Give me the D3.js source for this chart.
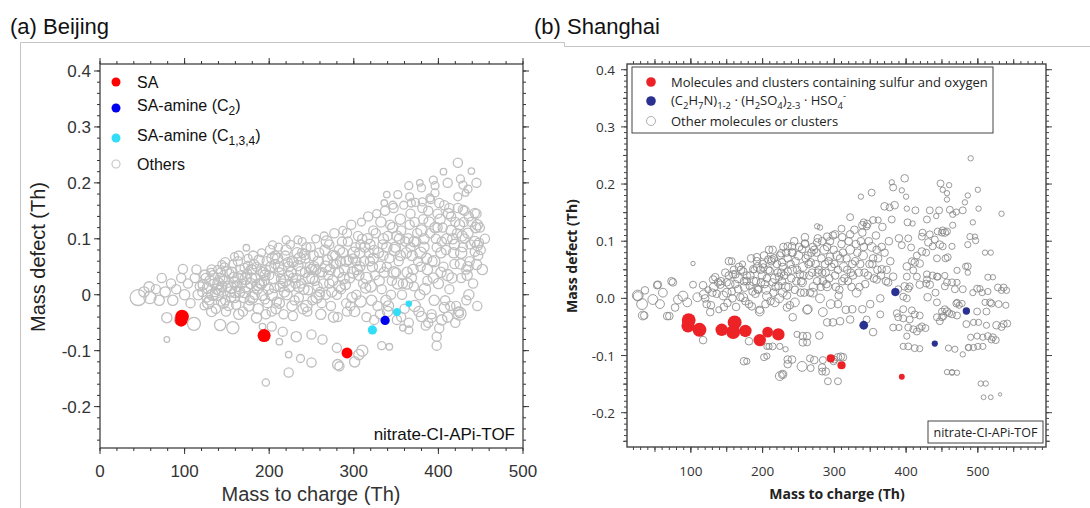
<!DOCTYPE html>
<html>
<head>
<meta charset="utf-8">
<script src="https://cdn.jsdelivr.net/npm/d3@7"></script>
<style>
  body { margin: 0; background: #fff; }
</style>
</head>
<body>
<div id="chart"></div>
<script>
// ---- Beijing (a): [m/z, mass defect, relative intensity]
var beijingSA = [[97,-0.039,11],[96,-0.046,9],[194,-0.073,10],[292,-0.104,7]];
var beijingAmineC2 = [[337,-0.046,5]];
var beijingAmineC134 = [[322,-0.063,5],[351,-0.031,4],[365,-0.016,2.5]];
var beijingOthers = [
  [45,-0.005,12],[52,0.005,5],[59,-0.005,7],[58,0.014,5],[66,0.01,4],[70,-0.01,5],[73,0.03,4],[77,0.005,5],[79,-0.041,5],[79,-0.08,1.5],
  [84,0.02,4],[86,-0.01,5],[90,0.01,4],[94,-0.045,5],[96,0.03,4],[98,0.046,4],[100,0.0,5],[104,0.02,4],[107,-0.015,4],[111,-0.052,8],
  [112,0.03,4],[114,0.045,4],[116,0.0,5],[118,0.015,4],[142,-0.054,6],[157,-0.059,7],[185,-0.041,5],[173,0.084,2],[159,0.068,3],[144,0.054,3],
  [204,0.089,3],[220,0.098,3],[234,0.098,3],[192,-0.057,2],[203,-0.057,4],[216,-0.066,4],[212,-0.084,2],[232,-0.075,5],[250,-0.071,4],
  [223,-0.107,2],[237,-0.114,3],[250,-0.121,4],[223,-0.139,4],[196,-0.157,2.5],[281,-0.125,5],[283,-0.128,4],[301,-0.12,5],[310,-0.1,6],
  [306,-0.107,5],[280,-0.095,4],[263,-0.08,4],[333,-0.091,3],[342,-0.093,2],[358,-0.059,2],[365,-0.063,3],[398,-0.091,4],[398,-0.075,4],
  [425,-0.034,8],[425,-0.034,3],[407,-0.023,5],[392,-0.041,4],[380,-0.039,5],[446,0.088,5],[445,0.054,5],[433,0.045,4],[443,0.077,4],
  [423,0.236,4],[406,0.22,2],[439,0.221,2],[394,0.205,3],[411,0.2,4],[426,0.207,3],[378,0.2,2],[365,0.195,3],[445,0.2,4],[429,0.196,3],
  [396,0.195,3],[435,0.189,3],[380,0.191,3],[352,0.179,3],[339,0.179,2],[366,0.175,3],[396,0.182,3],[423,0.175,3],[432,0.182,2],[390,0.173,3],
  [381,0.166,3],[336,0.164,2],[346,0.16,3],[368,0.164,3],[401,0.164,4],[413,0.155,4],[429,0.152,4],[443,0.146,4],[446,0.125,5],[448,0.093,4],
  [121,0.005,4],[123,-0.02,3],[125,0.03,4],[127,0.012,5],[129,-0.01,4],[131,0.04,3],[133,0.0,6],[135,0.02,4],[137,-0.025,4],[139,0.045,3],
  [141,0.008,5],[143,-0.012,4],[145,0.028,4],[147,0.05,3],[149,-0.03,4],[151,0.015,5],[153,0.038,4],[155,-0.005,4],[157,0.055,3],[159,0.022,5],
  [161,-0.018,4],[163,0.06,4],[165,0.005,5],[167,0.035,4],[169,-0.03,4],[171,0.048,4],[173,0.015,6],[175,0.065,3],[177,-0.01,4],[179,0.03,5],
  [181,0.07,4],[183,0.0,4],[185,0.05,4],[187,-0.025,5],[189,0.02,4],[191,0.075,3],[193,0.04,5],[195,-0.008,4],[197,0.06,4],[199,0.01,5],
  [201,0.08,4],[203,-0.03,4],[205,0.03,6],[207,0.055,4],[209,-0.012,4],[211,0.085,3],[213,0.015,5],[215,0.045,4],[217,-0.035,4],[219,0.07,4],
  [221,0.0,5],[223,0.035,4],[225,0.09,3],[227,-0.02,5],[229,0.058,4],[231,0.02,4],[233,0.075,5],[235,-0.005,4],[237,0.042,4],[239,0.095,3],
  [241,0.01,5],[243,0.065,4],[245,-0.03,4],[247,0.03,6],[249,0.085,4],[251,-0.01,4],[253,0.05,5],[255,0.1,3],[257,0.015,4],[259,0.075,4],
  [261,-0.035,5],[263,0.04,4],[265,0.105,3],[267,0.0,4],[269,0.062,5],[271,0.09,4],[273,-0.02,4],[275,0.025,5],[277,0.11,4],[279,0.055,4],
  [281,-0.04,4],[283,0.08,5],[285,0.01,4],[287,0.115,3],[289,0.045,5],[291,-0.015,4],[293,0.095,4],[295,0.03,5],[297,0.125,4],[299,0.065,4],
  [301,-0.03,5],[303,0.0,4],[305,0.105,4],[307,0.05,5],[309,0.13,3],[311,0.02,4],[313,0.085,5],[315,-0.04,4],[317,0.14,4],[319,0.06,4],
  [321,-0.01,5],[323,0.115,4],[325,0.035,4],[327,0.145,3],[329,0.075,5],[331,-0.035,4],[333,0.01,4],[335,0.1,5],[337,0.15,4],[339,0.05,4],
  [341,-0.02,5],[343,0.125,4],[345,0.025,4],[347,0.155,4],[349,0.085,5],[351,-0.045,4],[353,0.06,4],[355,0.135,5],[357,0.0,4],[359,0.16,3],
  [361,0.095,4],[363,0.04,5],[365,-0.05,4],[367,0.145,4],[369,0.07,5],[371,0.015,4],[373,0.165,3],[375,0.11,4],[377,-0.03,5],[379,0.05,4],
  [381,0.155,4],[383,0.085,5],[385,-0.055,4],[387,0.025,4],[389,0.13,5],[391,0.17,3],[393,0.06,4],[395,-0.01,5],[397,0.1,4],[399,0.145,4],
  [401,-0.06,4],[403,0.04,5],[405,0.12,4],[407,0.16,4],[409,0.08,4],[411,-0.04,5],[413,0.01,4],[415,0.14,4],[417,0.1,5],[419,0.055,4],
  [421,-0.02,4],[423,0.155,4],[425,0.125,5],[427,0.03,4],[429,0.085,4],[431,0.15,4],[433,-0.01,4],[435,0.11,5],[437,0.06,4],[439,0.13,4],
  [441,0.02,4],[443,0.095,5],[445,0.145,4],[447,0.07,4],[449,0.12,4],[452,0.045,5],[455,0.1,4],
  [122,0.018,5],[126,-0.005,4],[130,0.025,5],[134,0.035,4],[138,0.01,5],[142,0.03,4],[146,-0.015,5],[150,0.042,4],[154,0.005,5],[158,0.032,4],
  [162,0.015,5],[166,0.045,4],[170,-0.005,5],[174,0.038,4],[178,0.02,5],[182,0.055,4],[186,0.01,5],[190,0.042,4],[194,0.025,5],[198,-0.015,4],
  [202,0.05,5],[206,0.012,4],[210,0.065,5],[214,0.028,4],[218,0.005,5],[222,0.058,4],[226,0.04,5],[230,-0.01,4],[234,0.052,5],[238,0.02,4],
  [242,0.072,5],[246,0.008,4],[250,0.045,5],[254,0.025,4],[258,0.06,5],[262,-0.015,4],[266,0.08,5],[270,0.035,4],[274,0.005,5],[278,0.07,4],
  [282,0.04,5],[286,0.095,4],[290,0.018,5],[294,0.062,4],[298,-0.005,5],[302,0.085,4],[306,0.035,5],[310,0.1,4],[314,0.012,5],[318,0.075,4],
  [322,0.05,5],[326,0.11,4],[330,0.025,5],[334,0.09,4],[338,-0.01,5],[342,0.065,4],[346,0.12,5],[350,0.04,4],[354,0.1,5],[358,0.02,4],
  [362,0.075,5],[366,0.125,4],[370,0.045,5],[374,0.095,4],[378,0.0,5],[382,0.135,4],[386,0.065,5],[390,0.11,4],[394,0.03,5],[398,0.085,4],
  [402,0.135,5],[406,0.05,4],[410,0.1,5],[414,-0.02,4],[418,0.075,5],[422,0.11,4],[426,0.055,5],[430,0.13,4],[434,0.035,5],[438,0.09,4],
  [128,-0.015,6],[136,0.005,4],[144,0.015,5],[152,-0.02,4],[160,0.005,6],[168,0.02,4],[176,-0.02,5],[184,0.03,4],[192,0.0,6],[200,0.035,4],
  [208,-0.025,5],[216,0.02,4],[224,0.015,6],[232,0.03,4],[240,-0.025,5],[248,0.05,4],[256,-0.005,6],[264,0.02,4],[272,0.045,5],[280,0.0,4],
  [288,0.03,6],[296,-0.02,4],[304,0.045,5],[312,0.06,4],[320,0.015,6],[328,-0.02,4],[336,0.04,5],[344,0.0,4],[352,0.02,6],[360,-0.025,4],
  [368,0.03,5],[376,0.06,4],[384,0.01,6],[392,-0.035,4],[400,0.02,5],[408,-0.01,4],[416,0.03,5],[424,-0.03,4],
  [124,0.035,5],[132,0.045,4],[140,0.02,6],[148,0.058,4],[156,0.04,5],[164,0.07,4],[172,0.028,6],[180,0.045,4],[188,0.062,5],[196,0.045,4],
  [204,0.065,6],[212,0.04,4],[220,0.08,5],[228,0.03,4],[236,0.065,6],[244,0.085,4],[252,0.07,5],[260,0.04,4],[268,0.095,6],[276,0.055,4],
  [284,0.06,5],[292,0.11,4],[300,0.075,6],[308,0.09,4],[316,0.1,5],[324,0.08,4],[332,0.13,5],[340,0.105,4],[348,0.08,6],[356,0.115,4],
  [364,0.1,5],[372,0.13,4],[380,0.115,6],[388,0.15,4],[396,0.12,5],[404,0.095,4],[412,0.145,5],[420,0.13,4],[428,0.105,5],[436,0.14,4],
  [444,0.12,5],[450,0.08,4],
  [132,-0.03,5],[148,-0.01,4],[164,-0.035,5],[180,-0.005,6],[196,-0.035,4],[212,-0.015,5],[228,-0.038,4],[244,-0.02,6],[260,0.005,4],[276,-0.04,5],
  [292,-0.03,4],[308,-0.012,6],[324,-0.045,4],[340,-0.03,5],[356,-0.04,4],[372,-0.02,6],[388,-0.05,4],[404,-0.045,5],[420,-0.05,4],[436,0.0,5],
  [446,-0.02,4],
  [139,0.0,6],[147,0.025,5],[155,0.012,6],[163,0.03,5],[171,0.005,6],[179,0.045,5],[187,0.018,6],[195,0.035,5],[203,0.0,6],[211,0.05,5],
  [219,0.025,6],[227,0.06,5],[235,0.015,6],[243,0.04,5],[251,0.03,6],[259,0.0,5],[267,0.05,6],[275,0.07,5],[283,0.015,6],[291,0.06,5],
  [299,0.04,6],[307,0.075,5],[315,0.03,6],[323,0.065,5],[331,0.05,6],[339,0.085,5],[347,0.04,6],[355,0.07,5],[363,0.02,6],[371,0.095,5],
  [379,0.075,6],[387,0.045,5],[395,0.06,6],[403,0.075,5],[411,0.035,6],[419,0.09,5],[427,0.075,6],[435,0.05,5],
  [143,0.04,4],[159,-0.005,5],[175,0.052,4],[191,0.02,5],[207,0.07,4],[223,0.05,5],[239,0.075,4],[255,0.045,5],[271,0.02,4],[287,0.075,5],
  [303,0.06,4],[319,0.09,5],[335,0.07,4],[351,0.105,5],[367,0.085,4],[383,0.1,5],[399,0.12,4],[415,0.115,5],[431,0.1,4]
];

// ---- Shanghai (b)
var shanghaiSO = [[97,-0.038,10],[96,-0.048,9],[112,-0.055,10],[143,-0.055,8],[161,-0.042,10],[159,-0.059,10],
  [176,-0.057,8],[196,-0.073,8],[207,-0.059,6],[222,-0.063,8],[295,-0.105,3.5],[310,-0.117,3.5],[394,-0.137,1.8]];
var shanghaiAmine = [[385,0.011,3.5],[341,-0.047,4],[484,-0.022,2.8],[440,-0.079,2]];
var shanghaiOthers = [
  [490,0.245,1.5],[398,0.21,3],[380,0.203,1.5],[382,0.194,2.5],[394,0.189,1.5],[400,0.178,1.5],[352,0.185,2.5],[337,0.178,1.5],[448,0.201,2.5],
  [460,0.198,1.5],[457,0.184,1.5],[451,0.19,1.5],[486,0.18,1.5],[500,0.19,1.5],[482,0.168,1.5],[457,0.173,1.5],[533,0.148,1.5],[501,0.157,1.5],
  [370,0.161,3],[384,0.163,3],[377,0.159,2.5],[401,0.157,1.5],[413,0.154,2.5],[433,0.154,2.5],[446,0.154,2.5],[461,0.155,2.5],[470,0.151,2],
  [479,0.154,2.5],[465,0.147,2],[442,0.144,1.5],[429,0.138,2.5],[493,0.133,1.5],[380,0.138,2.5],[402,0.133,2.5],[409,0.131,1.5],[354,0.137,2.5],
  [341,0.133,2.5],[322,0.142,2.5],[339,0.128,3],[310,0.122,2.5],[276,0.126,1.5],[444,0.117,2.5],[423,0.115,2.5],[361,0.137,2],[345,0.126,2.5],
  [451,0.119,2.5],[465,0.128,2],[496,0.108,1.5],[497,0.101,2],[518,0.08,1.5],[483,0.056,2],[486,0.045,1.5],[521,0.037,1.5],[536,0.019,2.5],
  [540,0.014,2],[503,0.017,2],[506,0.01,2],[539,-0.012,2],[519,-0.009,2.5],[512,-0.023,2.5],[499,-0.023,2.5],[471,-0.007,2],[474,-0.012,2],
  [478,-0.009,2],[457,-0.023,3],[460,-0.026,2.5],[450,-0.033,2.5],[447,-0.04,2.5],[471,-0.03,2.5],[494,-0.042,2],[501,-0.042,2],[512,-0.047,2],
  [536,-0.045,2.5],[541,-0.044,2.5],[499,-0.066,2],[507,-0.068,2],[507,-0.084,2],[521,-0.068,2.5],[525,-0.073,2.5],[494,-0.086,2],[468,-0.089,2],
  [479,-0.098,1.5],[464,-0.13,1.5],[471,-0.13,1.5],[511,-0.149,1.5],[518,-0.173,1.2],[419,-0.088,2],[403,-0.084,2.5],[419,-0.052,2.5],
  [415,-0.058,2.5],[401,-0.066,2],[405,-0.037,2.5],[396,-0.035,2.5],[390,-0.051,2],[387,-0.026,2.5],[408,-0.021,2.5],[419,-0.03,2.5],
  [430,0.002,3],[443,-0.007,2.5],[454,0.021,2.5],[441,0.01,2.5],[443,0.038,2.5],[428,0.026,2.5],[429,0.042,2.5],[437,0.04,2.5],[454,0.04,2],
  [471,0.028,2],[486,0.056,2.5],[471,0.049,2],[455,0.07,2.5],[458,0.072,2.5],[443,0.07,2.5],[437,0.091,2.5],[451,0.091,2.5],[464,0.091,2],
  [428,0.08,2.5],[419,0.061,3],[415,0.075,2.5],[408,0.065,2.5],[410,0.049,2.5],[401,0.038,2.5],[415,0.038,2.5],[398,0.021,3],[405,0.021,2.5],
  [401,0.0,2.5],[396,0.003,2.5],[433,0.112,2.5],[440,0.103,2.5],[450,0.115,2.5],[457,0.117,2.5],[390,0.105,3],[403,0.105,2.5],[394,0.093,2.5],
  [407,0.089,2.5],[422,0.108,2.5],[510,0.08,1.5],[489,0.108,2],[486,0.094,2],[514,0.037,2],[499,0.017,2.5],[493,0.01,2],[514,0.012,2],
  [528,0.019,2.5],[533,0.014,2],[517,-0.007,2.5],[510,-0.007,2],[529,-0.01,2.5],[526,-0.047,3],[533,-0.05,2.5],[514,-0.066,2.5],[519,-0.072,2.5],
  [490,-0.068,2],[500,-0.084,2],[487,-0.086,2],[459,-0.087,2],[412,-0.087,2.5],[396,-0.084,2],[457,-0.129,1.5],[464,-0.129,1.5],[504,-0.149,1.5],
  [508,-0.173,1.2],[531,-0.168,0.6],
  [26,0.004,4],[36,0.014,3],[35,-0.03,3],[47,-0.002,5],[57,-0.01,4],[61,0.01,4],[54,0.024,3],[75,0.028,3],[70,-0.031,3],[78,-0.016,3],
  [82,-0.002,4],[89,0.004,5],[103,0.024,2.5],[103,0.061,1],[95,-0.007,4],[109,0.002,4],[118,0.007,4],[122,-0.01,3],[127,-0.024,3],[134,0.037,3],
  [141,0.024,3],[150,0.01,4],[157,0.065,2.5],[162,0.042,3],[166,0.016,3],[173,0.002,4],[178,0.03,3],[185,-0.014,3],[187,0.051,3],[193,0.016,3],
  [196,-0.023,4],[201,0.054,3],[206,0.004,4],[213,0.068,3],[214,0.028,3],[217,-0.007,4],[223,0.038,3],[227,0.063,3],[228,0.01,4],[235,0.047,3],
  [241,0.091,3],[241,0.08,3],[245,-0.007,4],[255,0.086,3],[255,0.028,4],[259,0.107,3],[263,-0.019,4],[267,0.063,3],[270,0.01,4],[277,0.045,3],
  [280,0.124,1.5],[283,0.1,3],[284,-0.024,4],[290,0.021,4],[294,0.073,3],[298,-0.042,3],[301,0.112,3],[305,-0.01,3],
  [117,-0.073,3],[178,-0.11,2],[181,-0.075,3],[206,-0.101,2],[214,-0.084,2.5],[232,-0.089,1.5],[228,-0.133,3.5],[228,-0.133,2],[241,-0.107,3],
  [255,-0.119,5],[272,-0.108,3],[262,-0.066,3],[248,-0.063,2],[262,-0.077,2.5],[284,-0.108,2.5],[288,-0.128,3],[291,-0.145,2.5],[305,-0.145,2.5],
  [174,-0.11,3],[202,-0.103,2.5],[209,-0.084,2],[224,-0.136,4],[235,-0.107,3],[235,-0.115,3],[266,-0.105,2.5],[267,-0.122,2.5],[283,-0.121,3],
  [283,-0.128,2.5],[305,-0.103,3],[312,-0.103,3],[299,-0.11,2.5],[300,-0.107,2.5],[309,-0.102,3],
  [26,0.005,6],[32,-0.01,6],[33,-0.03,4],[53,0.023,3],[67,-0.031,3],[73,0.03,3],[117,0.023,3],[131,0.033,3],[153,0.065,3],[159,0.042,3],
  [173,0.047,3],[192,0.065,3],[208,0.068,3],[226,0.079,3],[235,0.091,3],[259,0.096,3],[276,0.098,3],[290,0.108,3],[311,0.107,3],[322,0.112,3],
  [339,0.115,3],[234,-0.016,3],[242,-0.033,3],[256,-0.066,3],[279,-0.065,3],[256,-0.077,3],[224,-0.084,2],[206,-0.084,2],[290,-0.042,3],
  [308,-0.04,3],[322,-0.037,3],[325,-0.019,3],[339,-0.019,3],[350,-0.01,3],[364,-0.028,2.5],[354,-0.059,3],[345,-0.037,2.5],[375,0.028,3],
  [382,0.038,3],[359,0.033,3],[366,0.051,3],[401,0.056,3],[412,0.063,3],[422,0.082,3],[431,0.098,3],[447,0.094,3],[454,0.115,3],[396,-0.019,2.5],
  [389,-0.033,2.5],[412,-0.028,2.5],[382,-0.051,2.5],[403,-0.051,2.5],[410,-0.054,2.5],[422,-0.049,2.5],[427,-0.052,2.5],[443,-0.033,2.5],
  [450,-0.023,2.5],[454,-0.019,2.5],[452,-0.031,2.5],[464,-0.028,2.5],[470,-0.009,2.5],[419,0.024,3],[433,0.024,3],[429,0.033,2.5],[444,0.038,2.5],
  [457,0.028,2.5],[464,0.028,2.5],[468,0.016,2.5],[479,0.016,2.5],[389,0.016,2.5],[403,0.017,2.5],[484,-0.045,2.5],[487,-0.086,2],
  [120,0.0,3],[124,0.015,2],[128,-0.012,3],[132,0.02,4],[136,0.008,3],[139,-0.02,2],[142,0.03,3],[145,0.005,4],[148,0.045,3],[151,-0.008,3],
  [154,0.025,4],[157,0.012,3],[160,0.05,3],[163,-0.015,3],[166,0.035,4],[169,0.002,3],[172,0.06,2],[175,0.02,4],[178,0.04,3],[181,-0.01,3],
  [184,0.07,3],[187,0.03,4],[190,0.008,3],[193,0.055,4],[196,-0.02,3],[199,0.04,3],[202,0.075,3],[205,0.015,4],[208,0.05,3],[211,-0.005,3],
  [214,0.085,3],[217,0.035,4],[220,0.06,3],[223,0.0,4],[226,0.045,3],[229,0.09,3],[232,0.02,4],[235,0.07,3],[238,-0.012,3],[241,0.05,4],
  [244,0.1,3],[247,0.03,3],[250,0.075,4],[253,0.01,3],[256,0.055,4],[259,0.095,3],[262,-0.02,4],[265,0.04,3],[268,0.08,3],[271,0.02,4],
  [274,0.06,3],[277,0.105,3],[280,0.0,4],[283,0.045,3],[286,0.085,4],[289,0.025,3],[292,0.065,3],[295,-0.01,4],[298,0.11,3],[301,0.04,3],
  [304,0.075,4],[307,0.015,3],[310,0.095,3],[313,0.055,4],[316,-0.02,3],[319,0.03,3],[322,0.085,4],[325,0.06,3],[328,0.12,3],[331,0.01,4],
  [334,0.045,3],[337,0.1,3],[340,0.075,4],[343,0.025,3],[346,0.13,3],[349,0.06,3],[352,0.09,4],[355,0.035,3],[358,0.11,3],[361,0.07,3],
  [364,0.0,3],[367,0.125,3],[370,0.08,3],[373,0.05,3],[376,0.1,3],
  [182,0.022,3],[188,0.05,2],[194,0.015,3],[200,0.06,3],[206,0.035,3],[212,0.065,3],[218,0.02,3],[224,0.075,3],[230,0.04,3],[236,0.02,3],
  [242,0.08,3],[248,0.05,3],[254,0.03,3],[260,0.07,3],[266,0.01,3],[272,0.085,3],[278,0.05,3],[284,0.03,3],[290,0.09,3],[296,0.055,3],
  [302,0.02,3],[308,0.07,3],[314,0.035,3],[320,0.1,3],[326,0.04,3],[332,0.08,3],
  [130,0.01,3],[138,0.028,3],[146,-0.015,3],[153,0.04,3],[162,0.025,3],[170,0.05,3],[176,-0.005,3],[186,0.012,3],[192,0.072,3],[198,0.028,3],
  [204,-0.01,3],[210,0.048,3],[216,0.07,3],[222,0.022,3],[228,0.055,3],[234,0.005,3],[240,0.035,3],[246,0.065,3],[252,0.042,3],[258,0.01,3],
  [264,0.06,3],[270,0.09,3],[276,0.03,3],[282,0.07,3],[288,0.045,3],[294,0.1,3],[300,0.06,3],[306,0.005,3],[312,0.08,3],[318,0.05,3],
  [324,0.02,3],[330,0.095,3],[336,0.06,3],[342,0.045,3],[348,0.1,3],[354,0.07,3],[360,0.05,3],[366,0.09,3],[372,0.03,3],[378,0.065,3],
  [150,0.028,3],[158,0.0,3],[167,0.055,3],[174,0.03,3],[183,0.04,3],[191,0.03,3],[197,0.05,3],[203,0.025,3],[209,0.085,3],[215,0.01,3],
  [221,0.045,3],[227,0.03,3],[233,0.08,3],[239,0.06,3],[245,0.015,3],[251,0.09,3],[257,0.04,3],[263,0.075,3],[269,0.045,3],[275,0.08,3],
  [281,0.02,3],[287,0.06,3],[293,0.035,3],[299,0.085,3],[305,0.05,3],[311,0.03,3],[317,0.07,3],[323,0.045,3],[329,0.065,3],[335,0.02,3],
  [341,0.09,3],[347,0.04,3],[353,0.06,3],[359,0.085,3],[365,0.04,3]
];

// ticks
var beijingXTicks = [0, 100, 200, 300, 400, 500];
var beijingYTicks = [-0.2, -0.1, 0, 0.1, 0.2, 0.3, 0.4];
var shanghaiXTicks = [100, 200, 300, 400, 500];
var shanghaiYTicks = [-0.2, -0.1, 0, 0.1, 0.2, 0.3, 0.4];

var width = 1090, height = 508;
var svg = d3.select("#chart").append("svg")
    .attr("width", width)
    .attr("height", height)
    .style("font-family", "'Liberation Sans', Arial, sans-serif");

// light panel borders
svg.append("path")
    .attr("d", "M20.5,508V42.5H564.5V46.5H1090")
    .attr("fill", "none")
    .attr("stroke", "#c4c4c4")
    .attr("stroke-width", 1);

svg.append("text").attr("x", 10).attr("y", 34).attr("font-size", 22).attr("fill", "#111").text("(a) Beijing");
svg.append("text").attr("x", 534).attr("y", 34).attr("font-size", 22).attr("fill", "#111").text("(b) Shanghai");

// draws ticks on all four sides of a box
function boxTicks(g, x, y, xs, ys, color) {
  var x0 = x.range()[0], x1 = x.range()[1], y0 = y.range()[0], y1 = y.range()[1];
  xs.forEach(function(t) {
    g.append("g").selectAll("line").data(t.v).join("line")
      .attr("x1", d => x(d)).attr("x2", d => x(d))
      .attr("y1", y0).attr("y2", y0 + t.len)
      .attr("stroke", color);
    g.append("g").selectAll("line").data(t.v).join("line")
      .attr("x1", d => x(d)).attr("x2", d => x(d))
      .attr("y1", y1).attr("y2", y1 - t.len)
      .attr("stroke", color);
  });
  ys.forEach(function(t) {
    g.append("g").selectAll("line").data(t.v).join("line")
      .attr("y1", d => y(d)).attr("y2", d => y(d))
      .attr("x1", x0).attr("x2", x0 - t.len)
      .attr("stroke", color);
    g.append("g").selectAll("line").data(t.v).join("line")
      .attr("y1", d => y(d)).attr("y2", d => y(d))
      .attr("x1", x1).attr("x2", x1 + t.len)
      .attr("stroke", color);
  });
}

function subText(sel, parts, base, small) {
  var shift = 0;
  parts.forEach(function(p) {
    var target = p[1] === 1 ? 4 : (p[1] === -1 ? -6 : 0);
    sel.append("tspan")
      .attr("dy", target - shift)
      .attr("font-size", p[1] ? small : base)
      .text(p[0]);
    shift = target;
  });
}

// ================= Panel (a) =================
(function() {
  var x = d3.scaleLinear().domain([0, 500]).range([100, 523]);
  var y = d3.scaleLinear().domain([-0.274, 0.4125]).range([448, 64]);
  var r = d3.scaleSqrt().domain([0, 16]).range([0, 9.2]);
  var g = svg.append("g");

  g.append("g").selectAll("circle").data(beijingOthers).join("circle")
    .attr("cx", d => x(d[0])).attr("cy", d => y(d[1])).attr("r", d => r(d[2]))
    .attr("fill", "none").attr("stroke", "#bfbfbf").attr("stroke-width", 1.3);

  var groups = [[beijingSA, "#ff0000"], [beijingAmineC2, "#0000ee"], [beijingAmineC134, "#33ddf7"]];
  groups.forEach(function(s) {
    g.append("g").selectAll("circle").data(s[0]).join("circle")
      .attr("cx", d => x(d[0])).attr("cy", d => y(d[1])).attr("r", d => r(d[2]) * 0.9)
      .attr("fill", s[1]);
  });

  g.append("rect")
    .attr("x", 100).attr("y", 64).attr("width", 423).attr("height", 384)
    .attr("fill", "none").attr("stroke", "#333").attr("stroke-width", 1.2);

  boxTicks(g, x, y,
    [{v: d3.range(0, 501, 20), len: 3}, {v: beijingXTicks, len: 6}],
    [{v: d3.range(-26, 41, 2).map(v => v / 100), len: 3}, {v: beijingYTicks, len: 6}],
    "#333");

  g.append("g").selectAll("text").data(beijingXTicks).join("text")
    .attr("x", d => x(d)).attr("y", 477)
    .attr("text-anchor", "middle").attr("font-size", 17).attr("fill", "#333")
    .text(d => d);
  g.append("g").selectAll("text").data(beijingYTicks).join("text")
    .attr("x", 91).attr("y", d => y(d) + 6)
    .attr("text-anchor", "end").attr("font-size", 17).attr("fill", "#333")
    .text(d => Math.abs(d) < 1e-9 ? "0" : d.toFixed(1));

  g.append("text").attr("x", 311).attr("y", 501).attr("text-anchor", "middle")
    .attr("font-size", 20).attr("fill", "#333").text("Mass to charge (Th)");
  g.append("text").attr("transform", "translate(45,257) rotate(-90)").attr("text-anchor", "middle")
    .attr("font-size", 20).attr("fill", "#222").text("Mass defect (Th)");

  g.append("text").attr("x", 515).attr("y", 440).attr("text-anchor", "end")
    .attr("font-size", 17).attr("fill", "#111").text("nitrate-CI-APi-TOF");

  // legend
  var lg = g.append("g").attr("font-size", 16).attr("fill", "#111");
  lg.append("circle").attr("cx", 116).attr("cy", 82).attr("r", 4.5).attr("fill", "#ff0000");
  lg.append("text").attr("x", 137).attr("y", 88).text("SA");
  lg.append("circle").attr("cx", 116).attr("cy", 108).attr("r", 4.5).attr("fill", "#0000ee");
  subText(lg.append("text").attr("x", 137).attr("y", 111), [["SA-amine (C", 0], ["2", 1], [")", 0]], 16, 12);
  lg.append("circle").attr("cx", 116).attr("cy", 138).attr("r", 4.5).attr("fill", "#33ddf7");
  subText(lg.append("text").attr("x", 137).attr("y", 141), [["SA-amine (C", 0], ["1,3,4", 1], [")", 0]], 16, 12);
  lg.append("circle").attr("cx", 116).attr("cy", 164).attr("r", 4).attr("fill", "none").attr("stroke", "#c3c3c3").attr("stroke-width", 1.1);
  lg.append("text").attr("x", 137).attr("y", 170).text("Others");
})();

// ================= Panel (b) =================
(function() {
  var x = d3.scaleLinear().domain([11, 595]).range([627, 1046]);
  var y = d3.scaleLinear().domain([-0.26, 0.41]).range([447, 64]);
  var r = d3.scaleSqrt().domain([0, 16]).range([0, 8.8]);
  var g = svg.append("g").style("font-family", "'Open Sans', 'Noto Sans', sans-serif");

  g.append("g").selectAll("circle").data(shanghaiOthers).join("circle")
    .attr("cx", d => x(d[0])).attr("cy", d => y(d[1])).attr("r", d => r(d[2]))
    .attr("fill", "none").attr("stroke", "#888").attr("stroke-width", 0.85);

  g.append("g").selectAll("circle").data(shanghaiSO).join("circle")
    .attr("cx", d => x(d[0])).attr("cy", d => y(d[1])).attr("r", d => r(d[2]))
    .attr("fill", "#ec2227");
  g.append("g").selectAll("circle").data(shanghaiAmine).join("circle")
    .attr("cx", d => x(d[0])).attr("cy", d => y(d[1])).attr("r", d => r(d[2]))
    .attr("fill", "#2b3190");

  g.append("rect")
    .attr("x", 627).attr("y", 64).attr("width", 419).attr("height", 383)
    .attr("fill", "none").attr("stroke", "#444").attr("stroke-width", 1.4);

  boxTicks(g, x, y,
    [{v: d3.range(20, 591, 10), len: 3}, {v: d3.range(50, 551, 50), len: 5}, {v: shanghaiXTicks, len: 6}],
    [{v: d3.range(-25, 41, 1).map(v => v / 100), len: 3}, {v: [-0.25, -0.15, -0.05, 0.05, 0.15, 0.25, 0.35], len: 4}, {v: shanghaiYTicks, len: 6}],
    "#444");

  g.append("g").selectAll("text").data(shanghaiXTicks).join("text")
    .attr("x", d => x(d)).attr("y", 476)
    .attr("text-anchor", "middle").attr("font-size", 13.5).attr("fill", "#333")
    .text(d => d);
  g.append("g").selectAll("text").data(shanghaiYTicks).join("text")
    .attr("x", 615).attr("y", d => y(d) + 5)
    .attr("text-anchor", "end").attr("font-size", 13.5).attr("fill", "#333")
    .text(d => d.toFixed(1));

  g.append("text").attr("x", 837).attr("y", 499).attr("text-anchor", "middle")
    .attr("font-size", 14).attr("font-weight", "bold").attr("fill", "#222").text("Mass to charge (Th)");
  g.append("text").attr("transform", "translate(577,256) rotate(-90)").attr("text-anchor", "middle")
    .attr("font-size", 14).attr("font-weight", "bold").attr("fill", "#222").text("Mass defect (Th)");

  // instrument tag
  g.append("rect").attr("x", 928).attr("y", 421).attr("width", 115).attr("height", 22)
    .attr("fill", "#fff").attr("stroke", "#444").attr("stroke-width", 1);
  g.append("text").attr("x", 985.5).attr("y", 437).attr("text-anchor", "middle")
    .attr("font-size", 12.5).attr("fill", "#222").text("nitrate-CI-APi-TOF");

  // legend
  var lg = g.append("g").attr("font-size", 13).attr("fill", "#222");
  lg.append("rect").attr("x", 632).attr("y", 67).attr("width", 361).attr("height", 66)
    .attr("fill", "#fff").attr("stroke", "#444").attr("stroke-width", 1);
  lg.append("circle").attr("cx", 651).attr("cy", 82).attr("r", 4.8).attr("fill", "#ec2227");
  lg.append("text").attr("x", 671).attr("y", 87).text("Molecules and clusters containing sulfur and oxygen");
  lg.append("circle").attr("cx", 651).attr("cy", 101).attr("r", 4.8).attr("fill", "#2b3190");
  subText(lg.append("text").attr("x", 671).attr("y", 105),
    [["(C", 0], ["2", 1], ["H", 0], ["7", 1], ["N)", 0], ["1-2", 1], [" \u00b7 (H", 0], ["2", 1], ["SO", 0], ["4", 1],
     [")", 0], ["2-3", 1], [" \u00b7 HSO", 0], ["4", 1], ["-", -1]], 13, 9.5);
  lg.append("circle").attr("cx", 651).attr("cy", 121).attr("r", 4.5).attr("fill", "none").attr("stroke", "#9a9a9a").attr("stroke-width", 0.8);
  lg.append("text").attr("x", 671).attr("y", 126).text("Other molecules or clusters");
})();
</script>
</body>
</html>
